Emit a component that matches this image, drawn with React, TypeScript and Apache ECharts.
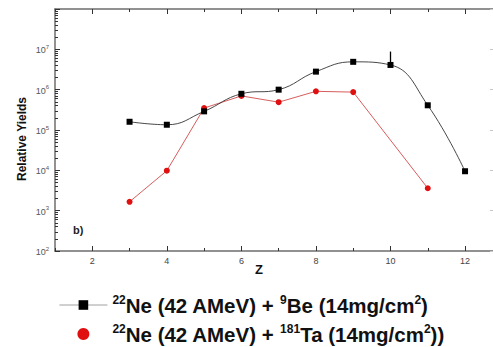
import React, { useEffect, useRef } from "react";
import * as echarts from "echarts";

// Atomic number Z
const zBe = [3, 4, 5, 6, 7, 8, 9, 10, 11, 12];
const yieldBe = [1.6e5, 1.35e5, 2.9e5, 7.9e5, 1.0e6, 2.8e6, 4.9e6, 4.1e6, 4.1e5, 9.5e3];
const zTa = [3, 4, 5, 6, 7, 8, 9, 11];
const yieldTa = [1.66e3, 9.8e3, 3.5e5, 7.0e5, 4.9e5, 9.1e5, 8.7e5, 3.6e3];
// lower-limit arrow at Z = 10
const arrowZ = 10;
const arrowRange = [4.6e6, 8.8e6];

const xMajorTicks = [2, 4, 6, 8, 10, 12];
const xMinorTicks = [1, 3, 5, 7, 9, 11];
// minor log ticks (2..9 x 10^e), as exponents for a decorative tick axis
const yMinorExp: number[] = [];
for (let e = 2; e < 8; e++) {
  for (let m = 2; m <= 9; m++) yMinorExp.push(e + Math.log10(m));
}

const legendNames: Record<string, string> = {
  Be: "{s|22}{b|Ne (42 AMeV) + }{s|9}{b|Be (14mg/cm}{s|2}{b|)}",
  Ta: "{s|22}{b|Ne (42 AMeV) + }{s|181}{b|Ta (14mg/cm}{s|2}{b|))}",
};

const FONT = "Liberation Sans, Arial, Helvetica, sans-serif";
const AXIS_COLOR = "#6e6e6e";

export default function App() {
  const ref = useRef<HTMLDivElement>(null);
  useEffect(() => {
    if (!ref.current) return;
    const chart = echarts.init(ref.current, null, { renderer: "svg" });
    const gridRect = { left: 55, right: 0, top: 9, bottom: 96 };
    const xBase = {
      type: "value" as const,
      min: 1,
      max: 12.75,
      splitLine: { show: false },
    };
    const yBase = {
      type: "log" as const,
      logBase: 10,
      min: 100,
      max: 1e8,
      splitLine: { show: false },
    };
    chart.setOption({
      animation: false,
      backgroundColor: "#fff",
      grid: [{ ...gridRect }, { ...gridRect }],
      xAxis: [
        {
          ...xBase,
          gridIndex: 0,
          position: "bottom",
          axisLine: { lineStyle: { color: AXIS_COLOR, width: 1.5 } },
          axisTick: { inside: true, length: 5, customValues: xMajorTicks, lineStyle: { color: "#333", width: 1 } },
          axisLabel: { customValues: xMajorTicks, fontSize: 9, color: "#444", margin: 5, fontFamily: FONT },
        },
        {
          ...xBase,
          gridIndex: 0,
          position: "top",
          axisLine: { lineStyle: { color: AXIS_COLOR, width: 1.5 } },
          axisTick: { inside: true, length: 5, customValues: xMajorTicks, lineStyle: { color: "#333", width: 1 } },
          axisLabel: { show: false },
        },
        {
          ...xBase,
          gridIndex: 1,
          position: "bottom",
          axisLine: { show: false },
          axisTick: { inside: true, length: 3, customValues: xMinorTicks, lineStyle: { color: "#333", width: 1 } },
          axisLabel: { show: false },
        },
        {
          ...xBase,
          gridIndex: 1,
          position: "top",
          axisLine: { show: false },
          axisTick: { inside: true, length: 3, customValues: xMinorTicks, lineStyle: { color: "#333", width: 1 } },
          axisLabel: { show: false },
        },
      ],
      yAxis: [
        {
          ...yBase,
          gridIndex: 0,
          position: "left",
          interval: 1,
          axisLine: { show: true, lineStyle: { color: AXIS_COLOR, width: 1.5 } },
          axisTick: { show: true, inside: true, length: 5, lineStyle: { color: "#333", width: 1 } },
          axisLabel: {
            margin: 6,
            formatter: (v: number) => {
              const e = Math.round(Math.log10(v));
              if (e >= 8) return "";
              return `{b|10}{s|${e}}`;
            },
            rich: {
              b: { fontSize: 9, color: "#555", fontFamily: FONT, verticalAlign: "bottom", lineHeight: 11 },
              s: { fontSize: 6, color: "#555", fontFamily: FONT, verticalAlign: "top", lineHeight: 11 },
            },
          },
        },
        {
          ...yBase,
          gridIndex: 0,
          position: "right",
          interval: 1,
          axisLine: { show: false },
          axisTick: { show: true, inside: true, length: 3, lineStyle: { color: "#c8c8c8", width: 1 } },
          axisLabel: { show: false },
        },
        {
          type: "value",
          gridIndex: 1,
          position: "left",
          min: 2,
          max: 8,
          splitLine: { show: false },
          axisLine: { show: false },
          axisTick: { show: true, inside: true, length: 3, customValues: yMinorExp, lineStyle: { color: "#333", width: 1 } },
          axisLabel: { show: false },
        },
      ],
      legend: {
        orient: "vertical",
        left: 59,
        top: 294,
        itemWidth: 48,
        itemHeight: 12,
        itemGap: 7,
        padding: 0,
        data: [
          { name: "Be", lineStyle: { color: "#888", width: 0.8 }, itemStyle: { color: "#000" } },
          { name: "Ta", icon: "circle" },
        ],
        formatter: (name: string) => legendNames[name],
        textStyle: {
          rich: {
            b: { fontSize: 20.5, fontWeight: "bold", color: "#111", fontFamily: FONT, lineHeight: 22, verticalAlign: "bottom" },
            s: { fontSize: 12, fontWeight: "bold", color: "#111", fontFamily: FONT, lineHeight: 22, verticalAlign: "top" },
          },
        },
      },
      series: [
        {
          name: "Be",
          type: "line",
          xAxisIndex: 0,
          yAxisIndex: 0,
          data: zBe.map((z, i) => [z, yieldBe[i]]),
          smooth: 0.45,
          symbol: "rect",
          symbolSize: 6,
          itemStyle: { color: "#000" },
          lineStyle: { color: "#333", width: 0.9 },
          z: 3,
          markLine: {
            silent: true,
            symbol: ["none", "arrow"],
            symbolSize: [0, 6],
            label: { show: false },
            lineStyle: { color: "#000", width: 1.3, type: "solid" },
            data: [[{ coord: [arrowZ, arrowRange[0]] }, { coord: [arrowZ, arrowRange[1]] }]],
          },
        },
        {
          name: "Ta",
          type: "line",
          xAxisIndex: 0,
          yAxisIndex: 0,
          data: zTa.map((z, i) => [z, yieldTa[i]]),
          symbol: "circle",
          symbolSize: 6,
          itemStyle: { color: "#e01010" },
          lineStyle: { color: "#cc3333", width: 0.8 },
          z: 2,
        },
      ],
      graphic: [
        {
          type: "text",
          x: 22,
          y: 139,
          rotation: Math.PI / 2,
          style: {
            text: "Relative Yields",
            font: `bold 12px ${FONT}`,
            fill: "#111",
            align: "center",
            verticalAlign: "middle",
          },
        },
        {
          type: "text",
          x: 259,
          y: 269,
          style: {
            text: "Z",
            font: `bold 13px ${FONT}`,
            fill: "#111",
            align: "center",
            verticalAlign: "middle",
          },
        },
        {
          type: "text",
          x: 73,
          y: 230,
          style: {
            text: "b)",
            font: `bold 11px ${FONT}`,
            fill: "#222",
            align: "left",
            verticalAlign: "middle",
          },
        },
      ],
    });
    return () => chart.dispose();
  }, []);
  return (
    <div style={{ position: "absolute", left: 0, top: 0 }}>
      <div ref={ref} style={{ width: 493, height: 347 }} />
    </div>
  );
}
